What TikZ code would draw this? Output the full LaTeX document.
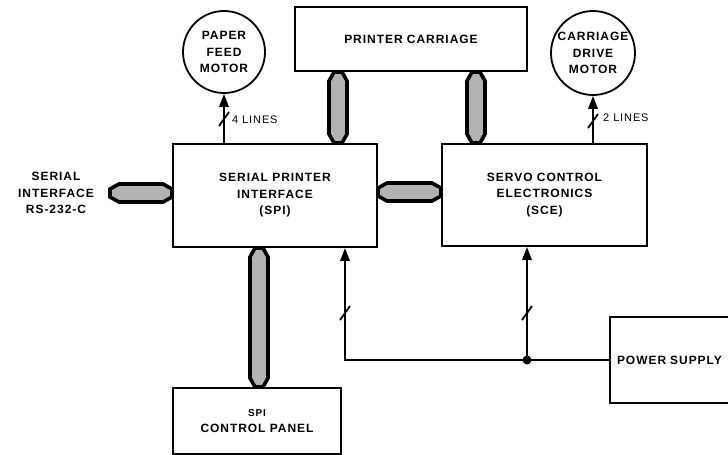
\documentclass[tikz,border=0pt]{standalone}
\usepackage{fontspec}
\setmainfont{Liberation Sans}[LetterSpace=8]
\usetikzlibrary{calc,arrows.meta}
\newcommand\lblfnt{\bfseries\fontsize{12}{16.5}\selectfont}
\newcommand\smlfnt{\fontsize{11}{14}\selectfont}
\newcommand\fatv[2]{%
  \path[fatfill] ($(#1)+(-4,0)$) -- ($(#1)+(4,0)$) -- ($(#1)+(9,9)$) --
    ($(#2)+(9,-9)$) -- ($(#2)+(4,0)$) -- ($(#2)+(-4,0)$) -- ($(#2)+(-9,-9)$) --
    ($(#1)+(-9,9)$) -- cycle;}
\newcommand\fath[2]{%
  \path[fatfill] ($(#1)+(0,-4)$) -- ($(#1)+(9,-9)$) -- ($(#2)+(-9,-9)$) --
    ($(#2)+(0,-4)$) -- ($(#2)+(0,4)$) -- ($(#2)+(-9,9)$) -- ($(#1)+(9,9)$) --
    ($(#1)+(0,4)$) -- cycle;}
\tikzset{
  box/.style={draw, line width=2pt, inner sep=0pt, align=center, font=\lblfnt},
  motor/.style={draw, circle, line width=1.8pt, inner sep=0pt, minimum size=82pt,
    align=center, font=\lblfnt},
  pline/.style={line width=1.7pt},
  tip/.style={-{Triangle[length=13pt,width=9.5pt]}},
  slashmark/.style={line width=1.8pt},
  fatfill/.style={draw=black, line width=3.6pt, fill=gray!60, line join=miter},
  txt/.style={inner sep=0pt, align=center, font=\lblfnt},
}
\begin{document}
\begin{tikzpicture}[x=1pt,y=-1pt]
\useasboundingbox (0,0) rectangle (728,455);
\clip (0,0) rectangle (728,455);

% blocks
\node[box, minimum width=232pt, minimum height=64pt] (pc) at (411,39) {PRINTER CARRIAGE};
\node[motor] (pfm) at (224,52) {PAPER\\FEED\\MOTOR};
\node[motor, minimum size=84pt] (cdm) at (593,53) {CARRIAGE\\DRIVE\\MOTOR};
\node[box, minimum width=204pt, minimum height=103pt] (spi) at (275,195.5)
  {SERIAL PRINTER\\INTERFACE\\(SPI)};
\node[box, minimum width=205pt, minimum height=102pt] (sce) at (544.5,195)
  {SERVO CONTROL\\ELECTRONICS\\(SCE)};
\node[box, minimum width=168pt, minimum height=66pt] (cp) at (257,421)
  {{\fontsize{10}{13}\selectfont SPI}\\CONTROL PANEL};
\node[box, anchor=north west, minimum width=140pt, minimum height=86pt,
  text width=126pt, align=left, inner xsep=7pt] (ps) at (609,316) {POWER SUPPLY};
\node[txt] (si) at (56,193) {SERIAL\\INTERFACE\\RS-232-C};

% helper coordinates
\coordinate (xa) at (338,0);
\coordinate (xb) at (476,0);
\coordinate (xc) at (259,0);
\coordinate (ya) at (0,192);
\coordinate (sx) at (345,0);
\coordinate (jx) at (527,0);
\coordinate (siend) at (110,193);

% fat bus arrows
\fatv{pc.south -| xa}{spi.north -| xa}
\fatv{pc.south -| xb}{sce.north -| xb}
\fatv{spi.south -| xc}{cp.north -| xc}
\fath{spi.east |- ya}{sce.west |- ya}
\fath{siend}{spi.west |- siend}

% motor lines
\draw[pline, tip] (spi.north -| pfm) -- (pfm.south);
\draw[slashmark] ($(spi.north -| pfm)+(0,-24)$) ++(-5,7) -- ++(10,-14);
\node[anchor=west, inner sep=0pt, font=\smlfnt] (l4) at (232,120) {4 LINES};
\draw[pline, tip] (sce.north -| cdm) -- (cdm.south);
\draw[slashmark] ($(sce.north -| cdm)+(0,-22)$) ++(-5,7) -- ++(10,-14);
\node[anchor=west, inner sep=0pt, font=\smlfnt] (l2) at (603,118) {2 LINES};

% power distribution
\coordinate (corner) at (sx |- ps.west);
\coordinate (jn) at (jx |- ps.west);
\draw[pline, tip] (ps.west) -- (corner) -- (corner |- spi.south);
\draw[pline, tip] (jn) -- (jn |- sce.south);
\fill (jn) circle (4.5);
\draw[slashmark] ($(corner)+(0,-47)$) ++(-5,7) -- ++(10,-14);
\draw[slashmark] ($(jn)+(0,-47)$) ++(-5,7) -- ++(10,-14);
\end{tikzpicture}
\end{document}
